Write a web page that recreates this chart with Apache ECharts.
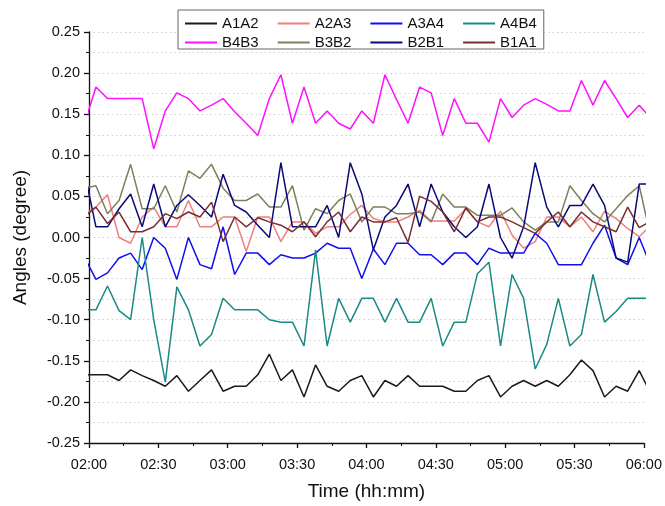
<!DOCTYPE html>
<html>
<head>
<meta charset="utf-8">
<script src="https://cdn.jsdelivr.net/npm/echarts@6/dist/echarts.min.js"></script>
<style>
  html, body { margin: 0; padding: 0; background: #fff; }
  #chart { width: 665px; height: 506px; }
</style>
</head>
<body>
<div id="chart"></div>
<script>
// Sample times (hh:mm), one reading every 5 minutes
var times = ['01:58','02:03','02:08','02:13','02:18','02:23','02:28','02:33','02:38','02:43',
  '02:48','02:53','02:58','03:03','03:08','03:13','03:18','03:23','03:28','03:33',
  '03:38','03:43','03:48','03:53','03:58','04:03','04:08','04:13','04:18','04:23',
  '04:28','04:33','04:38','04:43','04:48','04:53','04:58','05:03','05:08','05:13',
  '05:18','05:23','05:28','05:33','05:38','05:43','05:48','05:53','05:58','06:03'];

// Angles in degrees for each segment
var A1A2 = [-0.167,-0.167,-0.167,-0.174,-0.161,-0.168,-0.174,-0.181,-0.168,-0.187,
  -0.174,-0.161,-0.187,-0.181,-0.181,-0.167,-0.142,-0.174,-0.161,-0.194,
  -0.155,-0.181,-0.187,-0.174,-0.168,-0.194,-0.174,-0.181,-0.168,-0.181,
  -0.181,-0.181,-0.187,-0.187,-0.174,-0.168,-0.194,-0.181,-0.174,-0.181,
  -0.174,-0.181,-0.167,-0.149,-0.162,-0.194,-0.181,-0.187,-0.162,-0.190];
var A2A3 = [0.028,0.037,0.052,0.000,-0.007,0.025,0.037,0.013,0.013,0.045,
  0.013,0.013,0.025,0.025,-0.017,0.025,0.025,-0.005,0.019,0.019,
  0.005,0.013,0.013,0.028,0.039,0.023,0.019,0.019,0.025,0.033,
  0.020,0.020,0.020,0.035,0.019,0.013,0.032,0.003,-0.013,-0.005,
  0.025,0.025,0.013,0.025,0.007,0.032,0.023,0.011,0.001,0.015];
var A3A4 = [-0.024,-0.051,-0.043,-0.025,-0.019,-0.039,0.000,-0.013,-0.051,0.000,
  -0.033,-0.038,0.013,-0.045,-0.019,-0.019,-0.033,-0.021,-0.025,-0.025,
  -0.019,-0.007,-0.013,-0.013,-0.050,-0.014,-0.033,-0.007,-0.007,-0.021,
  -0.021,-0.033,-0.019,-0.019,-0.033,-0.013,-0.019,-0.019,-0.019,0.005,
  -0.007,-0.033,-0.033,-0.033,-0.007,0.015,-0.025,-0.033,0.000,-0.035];
var A4B4 = [-0.088,-0.088,-0.059,-0.089,-0.100,0.000,-0.100,-0.176,-0.060,-0.088,
  -0.132,-0.118,-0.074,-0.088,-0.088,-0.088,-0.100,-0.103,-0.103,-0.132,
  -0.015,-0.132,-0.074,-0.103,-0.074,-0.074,-0.103,-0.074,-0.103,-0.103,
  -0.074,-0.132,-0.103,-0.103,-0.044,-0.030,-0.132,-0.045,-0.074,-0.160,
  -0.130,-0.074,-0.132,-0.118,-0.045,-0.103,-0.090,-0.074,-0.074,-0.074];
var B4B3 = [0.138,0.183,0.169,0.169,0.169,0.169,0.108,0.154,0.176,0.169,
  0.154,0.161,0.169,0.153,0.139,0.124,0.169,0.198,0.139,0.183,
  0.139,0.154,0.139,0.132,0.154,0.139,0.198,0.168,0.139,0.183,
  0.176,0.124,0.169,0.139,0.139,0.116,0.169,0.146,0.161,0.169,
  0.162,0.154,0.154,0.191,0.161,0.191,0.169,0.146,0.161,0.145];
var B3B2 = [0.060,0.063,0.029,0.045,0.089,0.035,0.035,0.063,0.031,0.081,
  0.072,0.089,0.060,0.045,0.045,0.053,0.037,0.037,0.063,0.009,
  0.035,0.029,0.045,0.053,0.019,0.037,0.037,0.029,0.029,0.031,
  0.019,0.053,0.037,0.037,0.027,0.027,0.027,0.036,0.019,0.009,
  0.019,0.019,0.063,0.045,0.029,0.019,0.035,0.051,0.063,0.000];
var B2B1 = [0.080,0.013,0.013,0.035,0.053,0.013,0.065,0.013,0.039,0.052,
  0.039,0.025,0.077,0.039,0.031,0.015,0.000,0.091,0.013,0.013,
  0.013,0.039,0.000,0.091,0.053,-0.015,0.025,0.039,0.065,0.013,
  0.065,0.031,0.013,0.000,0.013,0.065,0.000,-0.025,0.013,0.091,
  0.037,0.013,0.039,0.039,0.065,0.039,-0.025,-0.030,0.065,0.065];
var B1A1 = [0.025,0.037,0.017,0.031,0.007,0.007,0.013,0.029,0.023,0.031,
  0.025,0.043,-0.005,0.025,0.013,0.024,0.019,0.015,0.007,0.019,
  0.001,0.019,0.031,0.007,0.025,0.019,0.019,0.024,-0.006,0.050,
  0.044,0.031,0.007,0.036,0.019,0.025,0.025,0.019,0.012,0.005,
  0.019,0.031,0.013,0.031,0.019,0.013,0.007,0.037,0.012,0.020];

var seriesNames = ['A1A2','A2A3','A3A4','A4B4','B4B3','B3B2','B2B1','B1A1'];
var seriesValues = [A1A2, A2A3, A3A4, A4B4, B4B3, B3B2, B2B1, B1A1];
var seriesColors = ['#1a1a1a','#f07f7f','#1010ee','#1a8a84','#ff10ff','#7f7f5c','#0a0a78','#7a2e2e'];

function toMinutes(s) {
  var p = s.split(':');
  return parseInt(p[0], 10) * 60 + parseInt(p[1], 10);
}
function fmtTime(m) {
  var h = Math.floor(m / 60), mm = m % 60;
  return (h < 10 ? '0' : '') + h + ':' + (mm < 10 ? '0' : '') + mm;
}

var font = 'Liberation Sans, Arial, sans-serif';

var series = seriesNames.map(function (name, i) {
  return {
    name: name,
    type: 'line',
    symbol: 'none',
    clip: true,
    lineStyle: { width: 1.5, color: seriesColors[i] },
    itemStyle: { color: seriesColors[i] },
    data: times.map(function (t, j) { return [toMinutes(t), seriesValues[i][j]]; })
  };
});

// Legend: two rows of four inside one framed box
var legendCommon = {
  orient: 'horizontal',
  left: 178,
  icon: 'rect',
  itemWidth: 32,
  itemHeight: 2,
  itemGap: 19,
  textStyle: { fontFamily: font, fontSize: 15, color: '#111', width: 40 },
  selectedMode: false
};

var chart = echarts.init(document.getElementById('chart'), null, { renderer: 'canvas' });
chart.setOption({
  animation: false,
  backgroundColor: '#fff',
  grid: { left: 89, right: 19, top: 32, bottom: 60 },
  legend: [
    Object.assign({}, legendCommon, {
      top: 10,
      padding: [6, 7, 18, 7],
      backgroundColor: '#fff',
      borderColor: '#666',
      borderWidth: 1,
      data: seriesNames.slice(0, 4)
    }),
    Object.assign({}, legendCommon, {
      top: 35,
      padding: [0, 7, 0, 7],
      data: seriesNames.slice(4)
    })
  ],
  xAxis: {
    type: 'value',
    min: 120,
    max: 360,
    interval: 30,
    name: 'Time (hh:mm)',
    nameLocation: 'middle',
    nameGap: 39,
    nameTextStyle: { fontFamily: font, fontSize: 19, color: '#111' },
    axisLine: { show: true, onZero: false, lineStyle: { color: '#111', width: 1.3 } },
    axisTick: { show: true, inside: false, length: 5, lineStyle: { color: '#111', width: 1.3 } },
    minorTick: { show: true, splitNumber: 2, length: 3, lineStyle: { color: '#111', width: 1 } },
    axisLabel: { fontFamily: font, fontSize: 14.5, color: '#111', margin: 14, formatter: function (v) { return fmtTime(v); } },
    splitLine: { show: false }
  },
  yAxis: {
    type: 'value',
    min: -0.25,
    max: 0.25,
    interval: 0.05,
    name: 'Angles (degree)',
    nameLocation: 'middle',
    nameGap: 59,
    nameTextStyle: { fontFamily: font, fontSize: 19, color: '#111' },
    axisLine: { show: true, lineStyle: { color: '#111', width: 1.3 } },
    axisTick: { show: true, inside: false, length: 5, lineStyle: { color: '#111', width: 1.3 } },
    minorTick: { show: true, splitNumber: 2, length: 3, lineStyle: { color: '#111', width: 1 } },
    axisLabel: { fontFamily: font, fontSize: 14.5, color: '#111', margin: 9, formatter: function (v) { return v.toFixed(2); } },
    splitLine: { show: true, lineStyle: { color: '#cfcfcf', type: [1.5, 3], width: 1 } },
    minorSplitLine: { show: true, lineStyle: { color: '#cfcfcf', type: [1.5, 3], width: 1 } }
  },
  series: series
});
</script>
</body>
</html>
